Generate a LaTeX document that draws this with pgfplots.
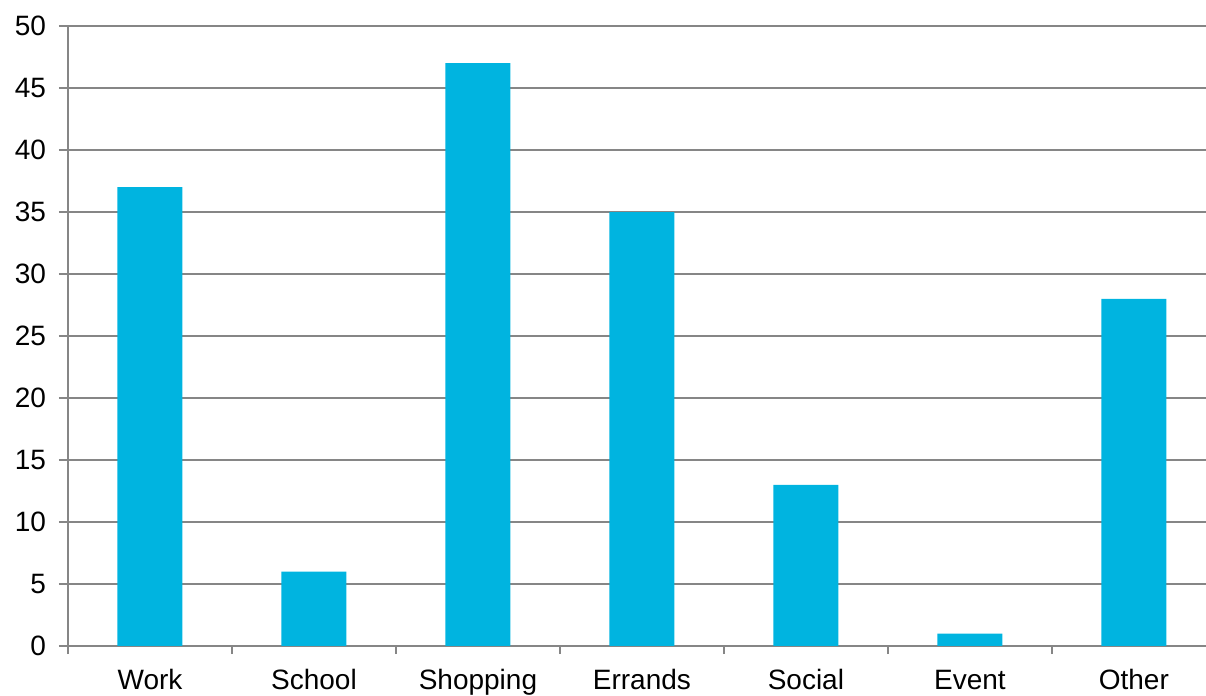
\documentclass[border=0pt]{standalone}
\usepackage{fontspec}
\setmainfont{Liberation Sans}
\usepackage{pgfplots}
\pgfplotsset{compat=1.18}
\definecolor{barblue}{RGB}{0,180,224}
\definecolor{gridgray}{RGB}{134,134,134}
\begin{document}
\begin{tikzpicture}
\clip (-34bp,-25bp) rectangle (569bp,323bp);
\useasboundingbox (-34bp,-25bp) rectangle (569bp,323bp);
\begin{axis}[
  at={(0,0)}, anchor=south west,
  scale only axis,
  width=569bp, height=310bp,
  xmin=-0.5, xmax=6.44,
  ymin=0, ymax=50,
  ytick distance=5,
  xtick={0,...,6},
  xticklabels={Work,School,Shopping,Errands,Social,Event,Other},
  minor xtick={-0.5,0.5,...,5.5},
  major x tick style={draw=none},
  minor x tick style={draw=gridgray, line width=1bp},
  minor tick length=4bp,
  major tick length=4.5bp,
  y tick style={draw=gridgray, line width=1bp},
  tick align=outside,
  axis x line*=bottom,
  axis y line*=left,
  axis line style={draw=gridgray, line width=1bp, -},
  ymajorgrids,
  major grid style={draw=gridgray, line width=1bp},
  /pgf/number format/assume math mode=true,
  tick label style={font=\fontsize{14bp}{16bp}\selectfont, text=black},
  yticklabel style={xshift=-3bp},
  xticklabel style={yshift=-3bp, text height=10.5bp, text depth=3bp},
  ybar, bar width=32.5bp,
]
\addplot[fill=barblue, draw=none] coordinates {
(0,37) (1,6) (2,47) (3,35) (4,13) (5,1) (6,28)
};
\end{axis}
\end{tikzpicture}
\end{document}
